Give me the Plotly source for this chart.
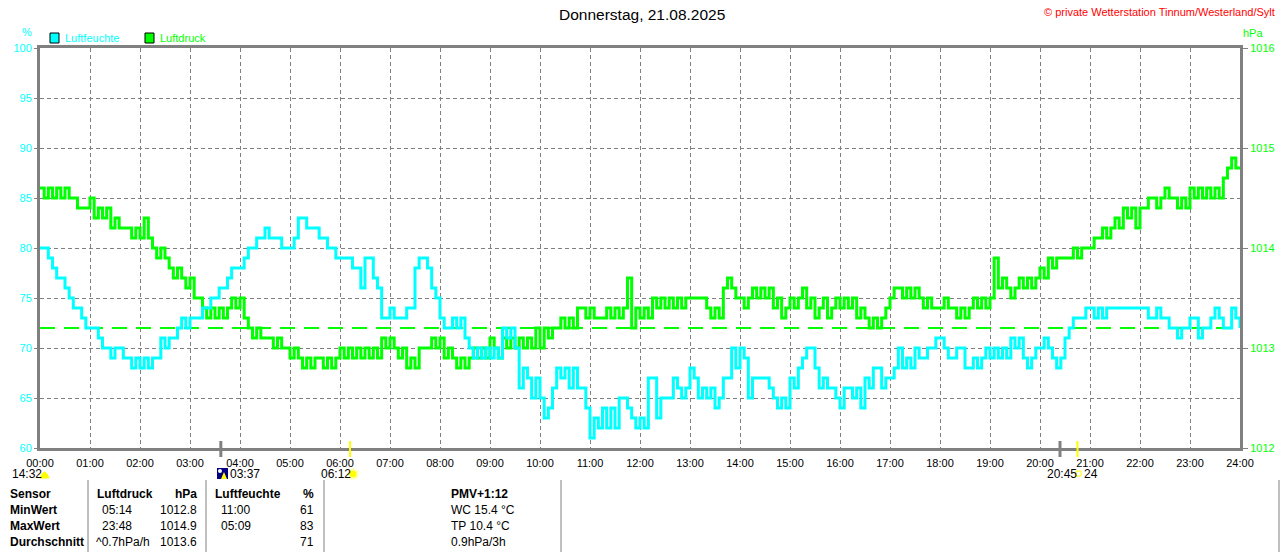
import plotly.graph_objects as go

# ---------------- data ----------------
minutes = list(range(0, 1441, 5))

humidity = [
    80, 80, 79, 78, 77, 77, 76, 75, 74, 74, 73, 72,
    72, 72, 71, 70, 70, 69, 70, 70, 69, 69, 68, 69,
    68, 69, 68, 69, 69, 71, 70, 71, 71, 72, 73, 72,
    73, 73, 73, 74, 74, 75, 75, 76, 76, 77, 78, 78,
    78, 79, 80, 80, 81, 81, 82, 81, 81, 81, 80, 80,
    80, 81, 83, 83, 82, 82, 82, 81, 81, 80, 80, 79,
    79, 79, 79, 78, 78, 76, 79, 79, 77, 76, 73, 73,
    74, 73, 73, 73, 74, 74, 78, 79, 79, 78, 76, 75,
    73, 72, 72, 73, 72, 73, 71, 70, 69, 70, 69, 70,
    69, 70, 69, 72, 71, 72, 70, 66, 68, 67, 65, 67,
    65, 63, 64, 66, 68, 67, 68, 66, 68, 66, 66, 64,
    61, 63, 62, 64, 62, 64, 62, 65, 65, 64, 63, 62,
    63, 62, 67, 67, 63, 65, 65, 65, 67, 66, 65, 66,
    68, 67, 65, 66, 65, 66, 64, 65, 67, 67, 70, 68,
    70, 69, 65, 67, 67, 67, 67, 66, 65, 64, 65, 64,
    67, 66, 68, 69, 70, 70, 68, 66, 67, 66, 66, 65,
    64, 66, 66, 65, 66, 64, 67, 66, 68, 68, 66, 67,
    67, 68, 70, 68, 69, 68, 70, 69, 69, 70, 70, 71,
    71, 70, 69, 69, 70, 70, 68, 68, 69, 68, 69, 70,
    69, 70, 69, 70, 69, 71, 70, 71, 69, 68, 69, 70,
    70, 71, 70, 69, 68, 69, 71, 72, 73, 73, 73, 74,
    74, 73, 74, 73, 74, 74, 74, 74, 74, 74, 74, 74,
    74, 74, 73, 73, 74, 73, 73, 72, 72, 71, 72, 72,
    73, 73, 71, 72, 72, 73, 74, 73, 72, 72, 74, 73,
    72,
]

pressure = [
    1014.6, 1014.5, 1014.6, 1014.5, 1014.6, 1014.5, 1014.6, 1014.5, 1014.5, 1014.4, 1014.4, 1014.4,
    1014.5, 1014.3, 1014.4, 1014.3, 1014.4, 1014.2, 1014.3, 1014.2, 1014.2, 1014.2, 1014.1, 1014.2,
    1014.1, 1014.3, 1014.1, 1014.0, 1013.9, 1014.0, 1013.9, 1013.8, 1013.7, 1013.8, 1013.7, 1013.6,
    1013.7, 1013.5, 1013.5, 1013.4, 1013.3, 1013.4, 1013.3, 1013.4, 1013.3, 1013.4, 1013.5, 1013.4,
    1013.5, 1013.3, 1013.2, 1013.1, 1013.2, 1013.1, 1013.1, 1013.1, 1013.0, 1013.1, 1013.0, 1013.0,
    1012.9, 1013.0, 1012.9, 1012.8, 1012.9, 1012.8, 1012.9, 1012.9, 1012.8, 1012.9, 1012.8, 1012.9,
    1013.0, 1012.9, 1013.0, 1012.9, 1013.0, 1012.9, 1013.0, 1012.9, 1013.0, 1012.9, 1013.1, 1013.0,
    1013.1, 1013.0, 1012.9, 1013.0, 1012.8, 1012.9, 1012.8, 1013.0, 1013.0, 1013.0, 1013.1, 1013.0,
    1013.1, 1012.9, 1013.0, 1012.9, 1012.8, 1012.9, 1012.8, 1012.9, 1013.0, 1012.9, 1013.0, 1012.9,
    1013.1, 1013.0, 1012.9, 1013.1, 1013.0, 1013.1, 1013.0, 1013.1, 1013.0, 1013.1, 1013.0, 1013.2,
    1013.0, 1013.2, 1013.1, 1013.2, 1013.2, 1013.3, 1013.2, 1013.3, 1013.2, 1013.4, 1013.4, 1013.3,
    1013.4, 1013.3, 1013.3, 1013.3, 1013.4, 1013.3, 1013.4, 1013.3, 1013.4, 1013.7, 1013.2, 1013.4,
    1013.3, 1013.4, 1013.3, 1013.5, 1013.4, 1013.5, 1013.4, 1013.5, 1013.4, 1013.5, 1013.4, 1013.5,
    1013.5, 1013.5, 1013.5, 1013.5, 1013.4, 1013.3, 1013.4, 1013.3, 1013.6, 1013.7, 1013.6, 1013.5,
    1013.5, 1013.4, 1013.5, 1013.6, 1013.5, 1013.6, 1013.5, 1013.6, 1013.4, 1013.5, 1013.3, 1013.4,
    1013.5, 1013.4, 1013.5, 1013.6, 1013.4, 1013.5, 1013.3, 1013.4, 1013.5, 1013.3, 1013.4, 1013.5,
    1013.4, 1013.5, 1013.4, 1013.5, 1013.3, 1013.4, 1013.3, 1013.2, 1013.3, 1013.2, 1013.3, 1013.4,
    1013.5, 1013.6, 1013.6, 1013.5, 1013.6, 1013.5, 1013.6, 1013.5, 1013.4, 1013.5, 1013.4, 1013.4,
    1013.4, 1013.5, 1013.4, 1013.4, 1013.3, 1013.4, 1013.3, 1013.4, 1013.5, 1013.4, 1013.5, 1013.4,
    1013.5, 1013.9, 1013.6, 1013.7, 1013.6, 1013.5, 1013.6, 1013.7, 1013.6, 1013.7, 1013.6, 1013.7,
    1013.8, 1013.7, 1013.9, 1013.8, 1013.9, 1013.9, 1013.9, 1013.9, 1014.0, 1013.9, 1014.0, 1014.0,
    1014.0, 1014.1, 1014.1, 1014.2, 1014.1, 1014.2, 1014.3, 1014.2, 1014.4, 1014.3, 1014.4, 1014.2,
    1014.4, 1014.4, 1014.5, 1014.5, 1014.4, 1014.5, 1014.6, 1014.5, 1014.5, 1014.4, 1014.5, 1014.4,
    1014.6, 1014.5, 1014.6, 1014.5, 1014.6, 1014.5, 1014.6, 1014.5, 1014.7, 1014.8, 1014.9, 1014.8,
    1014.8,
]

ref_pressure = 1013.2

hour_ticks = [0, 60, 120, 180, 240, 300, 360, 420, 480, 540, 600, 660, 720,
              780, 840, 900, 960, 1020, 1080, 1140, 1200, 1260, 1320, 1380, 1440]
hour_labels = ["00:00", "01:00", "02:00", "03:00", "04:00", "05:00", "06:00",
               "07:00", "08:00", "09:00", "10:00", "11:00", "12:00", "13:00",
               "14:00", "15:00", "16:00", "17:00", "18:00", "19:00", "20:00",
               "21:00", "22:00", "23:00", "24:00"]

# astronomical event markers on the time axis
event_times = ["03:37", "06:12", "20:24", "20:45"]
event_colors = ["#808080", "#FFFF00", "#808080", "#FFFF00"]

title_text = "Donnerstag, 21.08.2025"
copyright_text = "© private Wetterstation Tinnum/Westerland/Sylt"

table_rows = ["Sensor", "MinWert", "MaxWert", "Durchschnitt"]
press_time = ["Luftdruck", "05:14", "23:48", "^0.7hPa/h"]
press_val = ["hPa", "1012.8", "1014.9", "1013.6"]
hum_time = ["Luftfeuchte", "11:00", "05:09", ""]
hum_val = ["%", "61", "83", "71"]
extra_col = ["PMV+1:12", "WC 15.4 °C", "TP 10.4 °C", "0.9hPa/3h"]

CYAN = "#00FFFF"
GREEN = "#00FF00"
GRAY = "#808080"
FONT = "Liberation Sans, Arial, sans-serif"

# pixel helpers (plot area: x 40..1240, y 48..448)
def PX(x):
    return (x - 40) / 1200.0

def PY(y):
    return (448 - y) / 400.0

def to_min(s):
    h, m = s.split(":")
    return int(h) * 60 + int(m)

fig = go.Figure()

# primary y = pressure (right), y2 = humidity (left, drawn on top)
fig.add_trace(go.Scatter(
    x=[0, 1440], y=[ref_pressure, ref_pressure], yaxis="y", mode="lines",
    line=dict(color=GREEN, width=2, dash="15px,9px"), hoverinfo="skip"))
fig.add_trace(go.Scatter(
    x=minutes, y=pressure, yaxis="y", mode="lines", name="Luftdruck",
    line=dict(color=GREEN, width=3, shape="hv")))
fig.add_trace(go.Scatter(
    x=minutes, y=humidity, yaxis="y2", mode="lines", name="Luftfeuchte",
    line=dict(color=CYAN, width=3, shape="hv")))

shapes = []
annotations = []

def text(x, y, s, color="black", size=12, xanchor="left", bold=False):
    annotations.append(dict(
        x=PX(x), y=PY(y), xref="paper", yref="paper", text=("<b>%s</b>" % s) if bold else s,
        showarrow=False, xanchor=xanchor, yanchor="middle",
        font=dict(family=FONT, size=size, color=color)))

# title / copyright
text(642, 15, title_text, size=15.5, xanchor="center")
text(1277, 12, copyright_text, color="#FF0000", size=11, xanchor="right")

# legend
shapes.append(dict(type="rect", xref="paper", yref="paper", x0=PX(50), x1=PX(59), y0=PY(43), y1=PY(33),
                   fillcolor=CYAN, line=dict(color="black", width=1)))
text(63, 38, "Luftfeuchte", color=CYAN, size=11)
shapes.append(dict(type="rect", xref="paper", yref="paper", x0=PX(145), x1=PX(154), y0=PY(43), y1=PY(33),
                   fillcolor=GREEN, line=dict(color="black", width=1)))
text(158, 38, "Luftdruck", color=GREEN, size=11)

# axis units
text(27, 32, "%", color=CYAN, size=11, xanchor="center")
text(1241, 33, "hPa", color=GREEN, size=11)

# event markers on the time axis
for t, c in zip(event_times, event_colors):
    m = to_min(t)
    shapes.append(dict(type="line", xref="x", yref="paper", x0=m, x1=m, y0=PY(441), y1=PY(457),
                       line=dict(color=c, width=3 if c == GRAY else 2)))

# labels below the axis
text(10, 474, "14:32", size=12)
shapes.append(dict(type="path", xref="paper", yref="paper",
                   path="M %f %f Q %f %f %f %f Z" % (PX(40), PY(478), PX(44.5), PY(466), PX(49), PY(478)),
                   fillcolor="#FFFF00", line=dict(color="#FFFF00", width=1)))
# moonrise icon
shapes.append(dict(type="rect", xref="paper", yref="paper", x0=PX(217), x1=PX(228), y0=PY(479), y1=PY(468),
                   fillcolor="#000080", line=dict(width=0)))
shapes.append(dict(type="circle", xref="paper", yref="paper", x0=PX(218), x1=PX(222), y0=PY(473), y1=PY(469),
                   fillcolor="white", line=dict(width=0)))
shapes.append(dict(type="path", xref="paper", yref="paper",
                   path="M %f %f L %f %f L %f %f Z" % (PX(221), PY(479), PX(224), PY(472), PX(227), PY(479)),
                   fillcolor="#FFFF00", line=dict(width=0)))
text(228, 474, "03:37", size=12)
text(319, 474, "06:12", size=12)
shapes.append(dict(type="circle", xref="paper", yref="paper", x0=PX(347), x1=PX(359), y0=PY(480), y1=PY(468),
                   fillcolor="#FFFFC0", line=dict(width=0)))
shapes.append(dict(type="circle", xref="paper", yref="paper", x0=PX(349.5), x1=PX(356.5), y0=PY(477.5), y1=PY(470.5),
                   fillcolor="#FFFF00", line=dict(width=0)))
text(1045, 474, "20:45", size=12)
shapes.append(dict(type="rect", xref="paper", yref="paper", x0=PX(1076), x1=PX(1081), y0=PY(476), y1=PY(471),
                   fillcolor="rgba(0,0,0,0)", line=dict(color="#FFFF00", width=1)))
text(1082, 474, "24", size=12)

# table
for xs in [88, 206, 324, 561, 1279]:
    shapes.append(dict(type="line", xref="paper", yref="paper", x0=PX(xs), x1=PX(xs), y0=PY(480), y1=PY(552),
                       line=dict(color=GRAY, width=1)))
row_y = [494, 510, 526, 542]
x_time_cols = [95, 100, 100, 94]
x_hum_cols = [213, 219, 219, 219]
for i, y in enumerate(row_y):
    head = (i == 0)
    text(8, y, table_rows[i], bold=True)
    text(x_time_cols[i], y, press_time[i], bold=head)
    text(199, y, press_val[i], bold=head, xanchor="right")
    text(x_hum_cols[i], y, hum_time[i], bold=head)
    text(316, y, hum_val[i], bold=head, xanchor="right")
    text(449, y, extra_col[i], bold=head)

fig.update_layout(
    width=1280, height=552,
    margin=dict(l=40, r=40, t=48, b=104, pad=0, autoexpand=False),
    paper_bgcolor="white", plot_bgcolor="white",
    showlegend=False,
    font=dict(family=FONT, size=12, color="black"),
    xaxis=dict(range=[0, 1440], tickmode="array", tickvals=hour_ticks, ticktext=hour_labels,
               showgrid=True, gridcolor=GRAY, griddash="4px,3px", gridwidth=1,
               showline=True, linecolor=GRAY, linewidth=3, mirror=True, automargin=False,
               ticks="", zeroline=False, ticklabelstandoff=3,
               tickfont=dict(family=FONT, size=11, color="black")),
    yaxis=dict(range=[1012, 1016], side="right", tickmode="linear", tick0=1012, dtick=1,
               showgrid=False, showline=True, linecolor=GRAY, linewidth=3, mirror=True,
               automargin=False,
               ticks="outside", ticklen=5, tickcolor=GRAY, zeroline=False,
               tickfont=dict(family=FONT, size=11, color=GREEN)),
    yaxis2=dict(range=[60, 100], side="left", overlaying="y", tickmode="linear", tick0=60, dtick=5,
                showgrid=True, gridcolor=GRAY, griddash="4px,3px", gridwidth=1, automargin=False,
                ticks="outside", ticklen=5, tickcolor=GRAY, zeroline=False, showline=False,
                tickfont=dict(family=FONT, size=11, color=CYAN)),
    shapes=shapes,
    annotations=annotations,
)

fig.write_html("out.html", config={"displayModeBar": False},
               post_script="document.body.style.margin='0';document.body.style.overflow='hidden';")
